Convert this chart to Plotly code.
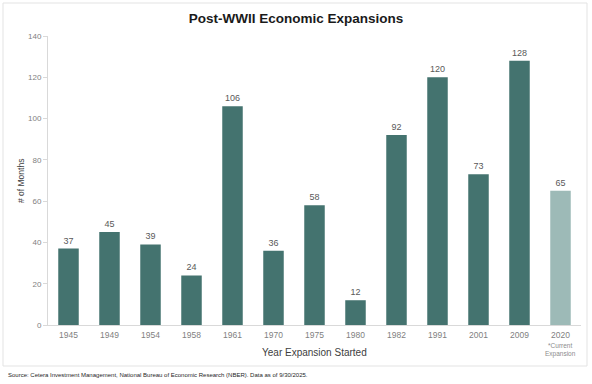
import plotly.graph_objects as go

years = ["1945", "1949", "1954", "1958", "1961", "1970", "1975", "1980", "1982", "1991", "2001", "2009", "2020"]
months = [37, 45, 39, 24, 106, 36, 58, 12, 92, 120, 73, 128, 65]
colors = ["#44736F"] * 12 + ["#9DBAB7"]

L, R, T, B = 48, 11, 36, 59
W, H = 592, 384
pw, ph = W - L - R, H - T - B

def px_x(px):
    return (px - L) / pw

def px_y(py):
    return (H - B - py) / ph

fig = go.Figure(go.Bar(
    x=years, y=months, marker_color=colors, marker_line_width=0,
    text=[str(m) for m in months], textposition="outside",
    textfont=dict(size=9, color="#595959", family="Liberation Sans, Arial"),
    cliponaxis=False,
))

fig.update_layout(
    width=W, height=H, margin=dict(l=L, r=R, t=T, b=B),
    paper_bgcolor="white", plot_bgcolor="white",
    bargap=0.5, showlegend=False,
    font=dict(family="Liberation Sans, Arial", color="#7f7f7f"),
    title=dict(text="<b>Post-WWII Economic Expansions</b>", x=0.5, xanchor="center",
               y=1 - 18 / H, yanchor="middle",
               font=dict(size=13.5, color="#1a1a1a", family="Liberation Sans, Arial")),
    xaxis=dict(type="category", range=[-0.5, len(years) - 0.5], showline=True,
               linecolor="#d9d9d9", linewidth=1, ticks="",
               tickfont=dict(size=8.5, color="#7f7f7f"), showgrid=False, ticklabelstandoff=2),
    yaxis=dict(range=[0, 140], dtick=20, showline=True, linecolor="#d9d9d9", linewidth=1,
               ticks="outside", ticklen=4, tickcolor="#d9d9d9", showgrid=False, zeroline=False,
               tickfont=dict(size=8, color="#7f7f7f")),
    shapes=[dict(type="rect", xref="paper", yref="paper",
                 x0=px_x(3), x1=px_x(587), y0=px_y(366), y1=px_y(3),
                 line=dict(color="#e3e3e3", width=1), fillcolor="rgba(0,0,0,0)", layer="below")],
    annotations=[
        dict(text="Year Expansion Started", xref="paper", yref="paper", x=0.5, y=px_y(352),
             showarrow=False, xanchor="center", yanchor="middle",
             font=dict(size=10, color="#404040")),
        dict(text="# of Months", xref="paper", yref="paper", x=px_x(21), y=px_y(181),
             showarrow=False, textangle=-90, xanchor="center", yanchor="middle",
             font=dict(size=8.5, color="#404040")),
        dict(text="*Current<br>Expansion", xref="x", yref="paper", x=years.index("2020"), y=px_y(350),
             showarrow=False, xanchor="center", yanchor="middle",
             font=dict(size=6.5, color="#8c8c8c")),
        dict(text="Source: Cetera Investment Management, National Bureau of Economic Research (NBER). Data as of 9/30/2025.",
             xref="paper", yref="paper", x=px_x(6), y=px_y(375), showarrow=False,
             xanchor="left", yanchor="middle", font=dict(size=6, color="#262626")),
    ],
)

fig.write_html("out.html", config={"displayModeBar": False},
               post_script="document.body.style.margin='0';")
